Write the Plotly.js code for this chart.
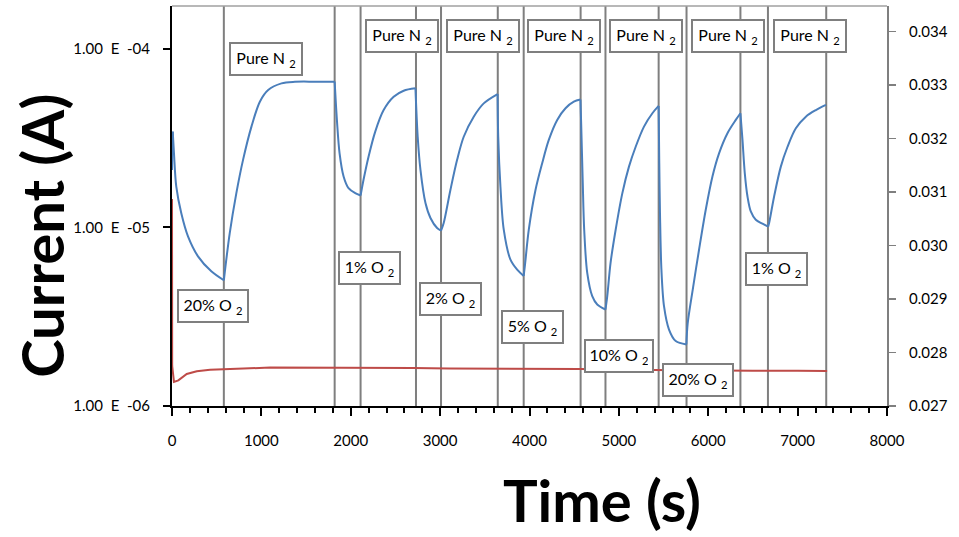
<!DOCTYPE html>
<html>
<head>
<meta charset="utf-8">
<script src="https://cdn.plot.ly/plotly-3.0.1.min.js"></script>
<style>html,body{margin:0;padding:0;background:#fff;}#chart{width:959px;height:537px;}</style>
</head>
<body>
<div id="chart"></div>
<script>
// ---- data ----
const timeBlue = [0, 8, 22, 48, 104, 179, 291, 440, 580,
  646, 720, 795, 889, 983, 1076, 1225, 1375, 1600, 1820,
  1845, 1875, 1920, 1975, 2050, 2110,
  2143, 2199, 2274, 2368, 2480, 2592, 2724,
  2749, 2780, 2836, 2892, 2966, 3010,
  3040, 3115, 3190, 3264, 3376, 3488, 3643,
  3650, 3675, 3712, 3787, 3862, 3935,
  3950, 3992, 4067, 4142, 4216, 4310, 4403, 4496, 4570,
  4578, 4595, 4612, 4646, 4702, 4758, 4850,
  4870, 4907, 4964, 5039, 5113, 5188, 5281, 5375, 5445,
  5452, 5460, 5476, 5505, 5561, 5636, 5755,
  5770, 5830, 5897, 5972, 6047, 6121, 6215, 6308, 6360,
  6383, 6409, 6439, 6476, 6532, 6607, 6670,
  6681, 6737, 6812, 6887, 6980, 7092, 7204, 7317];
const currentBlue = [2.1e-5, 3.44e-5, 2.6e-5, 1.69e-5, 1.2e-5, 8.91e-6, 6.89e-6, 5.68e-6, 5.06e-6,
  9.3e-6, 1.557e-5, 2.39e-5, 3.67e-5, 5.06e-5, 5.88e-5, 6.41e-5, 6.54e-5, 6.55e-5, 6.55e-5,
  4.0e-5, 2.6e-5, 1.93e-5, 1.66e-5, 1.557e-5, 1.51e-5,
  1.85e-5, 2.49e-5, 3.44e-5, 4.54e-5, 5.39e-5, 5.83e-5, 6.01e-5,
  3.22e-5, 2.1e-5, 1.37e-5, 1.13e-5, 9.92e-6, 9.59e-6,
  1.058e-5, 1.62e-5, 2.39e-5, 3.22e-5, 4.17e-5, 4.95e-5, 5.58e-5,
  3.22e-5, 1.69e-5, 9.71e-6, 6.6e-6, 5.8e-6, 5.35e-6,
  6.2e-6, 9.71e-6, 1.62e-5, 2.29e-5, 3.09e-5, 4.0e-5, 4.65e-5, 5.06e-5, 5.2e-5,
  3.83e-5, 1.85e-5, 9.71e-6, 5.56e-6, 4.12e-6, 3.7e-6, 3.47e-6,
  4.12e-6, 6.33e-6, 9.71e-6, 1.557e-5, 2.19e-5, 2.83e-5, 3.67e-5, 4.36e-5, 4.79e-5,
  2.29e-5, 1.2e-5, 5.8e-6, 3.62e-6, 2.68e-6, 2.31e-6, 2.21e-6,
  2.9e-6, 4.6e-6, 7.5e-6, 1.256e-5, 1.93e-5, 2.6e-5, 3.37e-5, 4.0e-5, 4.36e-5,
  3.09e-5, 2.01e-5, 1.49e-5, 1.229e-5, 1.104e-5, 1.049e-5, 1.01e-5,
  1.058e-5, 1.49e-5, 2.19e-5, 2.83e-5, 3.59e-5, 4.17e-5, 4.54e-5, 4.85e-5];

const timeRed = [0, 2, 22, 71, 165, 277, 426, 575, 800, 1098, 1500, 1804, 2200, 2700,
  3100, 3451, 3900, 4571, 5000, 5500, 6000, 6500, 7000, 7330];
const valueRed = [0.03087, 0.02775, 0.02745, 0.02748, 0.0276, 0.02765, 0.02768, 0.027685, 0.0277,
  0.02772, 0.02772, 0.02772, 0.02772, 0.02771, 0.0277, 0.0277, 0.0277, 0.02769, 0.02768,
  0.02767, 0.02767, 0.02766, 0.02766, 0.027655];

// gas switching times (s)
const switchTimes = [580, 1820, 2110, 2730, 3010, 3645, 3935, 4572, 4850, 5445, 5757, 6360, 6668, 7320];

// gas labels of each segment
const gasNames = ['20% O', 'Pure N', '1% O', 'Pure N', '2% O', 'Pure N', '5% O', 'Pure N',
  '10% O', 'Pure N', '20% O', 'Pure N', '1% O', 'Pure N'];

const leftTickVals = [1e-6, 1e-5, 1e-4];
const leftTickText = ['1.00\u00a0\u00a0E\u00a0\u00a0-06', '1.00\u00a0\u00a0E\u00a0\u00a0-05', '1.00\u00a0\u00a0E\u00a0\u00a0-04'];

// ---- layout placement of the label boxes (x in seconds, y in paper fraction) ----
const labelX = [454, 1057, 2210, 2571, 3121, 3485, 4039, 4390, 5006, 5300, 5888, 6219, 6760, 7143];
const labelY = [0.251, 0.868, 0.3445, 0.925, 0.268, 0.925, 0.1975, 0.925, 0.1255, 0.925, 0.064, 0.925, 0.3425, 0.925];
const boxW = {'Pure N': 62, '20% O': 60, '10% O': 58, '1% O': 51, '2% O': 51, '5% O': 51};

const FONT = 'Lato, "Open Sans", sans-serif';
const GRAY = '#7f7f7f';

// split the blue curve at the gas switches so each segment is smooth but corners stay sharp
const breakIdx = [0, 1];
switchTimes.forEach(t => {
  let best = 0;
  timeBlue.forEach((v, i) => { if (Math.abs(v - t) < Math.abs(timeBlue[best] - t)) best = i; });
  if (!breakIdx.includes(best)) breakIdx.push(best);
});
if (!breakIdx.includes(timeBlue.length - 1)) breakIdx.push(timeBlue.length - 1);
breakIdx.sort((a, b) => a - b);

const traces = [];
for (let s = 0; s < breakIdx.length - 1; s++) {
  const a = breakIdx[s], b = breakIdx[s + 1];
  traces.push({
    x: timeBlue.slice(a, b + 1), y: currentBlue.slice(a, b + 1),
    type: 'scatter', mode: 'lines', yaxis: 'y',
    line: {color: '#4a7ebb', width: 2, shape: 'spline', smoothing: 0.9},
    showlegend: false, name: 'Current', hoverinfo: 'skip'
  });
}
traces.push({x: timeRed, y: valueRed, type: 'scatter', mode: 'lines', yaxis: 'y2',
  line: {color: '#be4b48', width: 2}, showlegend: false, name: 'Secondary'});

const shapes = switchTimes.map(t => ({
  type: 'line', xref: 'x', yref: 'paper', x0: t, x1: t, y0: 0, y1: 1,
  line: {color: GRAY, width: 2}, layer: 'below'
}));
shapes.push({type: 'line', xref: 'paper', yref: 'paper', x0: 0, x1: 1, y0: 1, y1: 1,
  line: {color: '#a0a0a0', width: 1.5}, layer: 'below'});

const annotations = gasNames.map((g, i) => ({
  x: labelX[i], y: labelY[i], xref: 'x', yref: 'paper',
  text: g + ' <sub>2</sub>', showarrow: false,
  font: {family: FONT, size: 16, color: '#000'},
  bgcolor: '#fff', bordercolor: GRAY, borderwidth: 2, borderpad: 4,
  width: boxW[g], height: 22, xanchor: 'center', yanchor: 'middle', align: 'center'
}));
annotations.push({
  text: 'Time (s)', xref: 'paper', yref: 'paper', x: 0.601, y: -0.235,
  showarrow: false, xanchor: 'center', yanchor: 'middle',
  font: {family: FONT, size: 58, color: '#000', weight: 'bold'}
});
annotations.push({
  text: 'Current (A)', xref: 'paper', yref: 'paper', x: -0.182, y: 0.425,
  showarrow: false, xanchor: 'center', yanchor: 'middle', textangle: -90,
  font: {family: FONT, size: 58, color: '#000', weight: 'bold'}
});

const layout = {
  width: 959, height: 537,
  margin: {l: 172, r: 72, t: 6, b: 131, pad: 0},
  paper_bgcolor: '#fff', plot_bgcolor: '#fff',
  font: {family: FONT, size: 15, color: '#000'},
  showlegend: false,
  xaxis: {
    range: [0, 8000], dtick: 1000, tick0: 0, showgrid: false, zeroline: false,
    showline: true, linecolor: '#000', linewidth: 2,
    ticks: 'outside', ticklen: 8, tickwidth: 2, tickcolor: '#000',
    minor: {dtick: 200, ticks: 'outside', ticklen: 5, tickwidth: 2, tickcolor: '#000', showgrid: false},
    tickfont: {family: FONT, size: 15, color: '#000'}, ticklabelstandoff: 12
  },
  yaxis: {
    type: 'log', range: [-6, -3.76], tickvals: leftTickVals, ticktext: leftTickText,
    showgrid: false, zeroline: false, showline: true, linecolor: '#000', linewidth: 2,
    ticks: 'outside', ticklen: 7, tickwidth: 2, tickcolor: '#000',
    tickfont: {family: FONT, size: 15, color: '#000'}, ticklabelstandoff: 10
  },
  yaxis2: {
    overlaying: 'y', side: 'right', range: [0.027, 0.03448], dtick: 0.001, tick0: 0.027,
    tickformat: '.3f', showgrid: false, zeroline: false, showline: true,
    linecolor: GRAY, linewidth: 2, ticks: 'outside', ticklen: 7, tickwidth: 1.5, tickcolor: GRAY,
    tickfont: {family: FONT, size: 15, color: '#000'}, ticklabelstandoff: 10
  },
  shapes: shapes,
  annotations: annotations
};

Plotly.newPlot('chart', traces, layout, {displayModeBar: false, staticPlot: true});
</script>
</body>
</html>
